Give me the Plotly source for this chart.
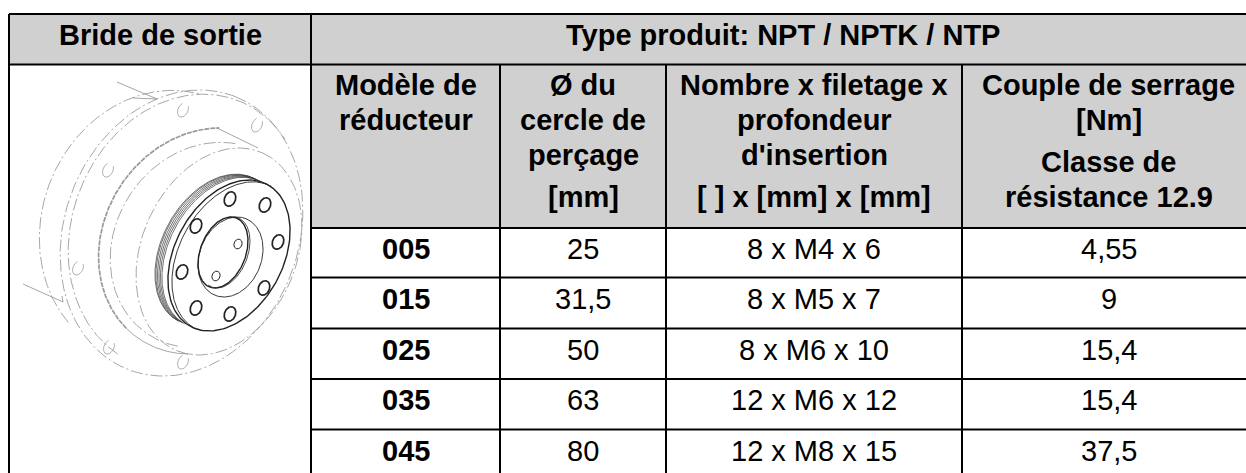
import numpy as np
import plotly.graph_objects as go

# ---- data ----
title_left = "Bride de sortie"
title_right = "Type produit: NPT / NPTK / NTP"
head_models = ["Modèle de", "réducteur"]
head_circle = ["Ø du", "cercle de", "perçage", "[mm]"]
head_thread = ["Nombre x filetage x", "profondeur", "d'insertion", "[ ] x [mm] x [mm]"]
head_torque = ["Couple de serrage", "[Nm]", "Classe de", "résistance 12.9"]
models = ["005", "015", "025", "035", "045"]
circles = ["25", "31,5", "50", "63", "80"]
threads = ["8 x M4 x 6", "8 x M5 x 7", "8 x M6 x 10", "12 x M6 x 12", "12 x M8 x 15"]
torques = ["4,55", "9", "15,4", "15,4", "37,5"]

# ---- layout ----
W, H = 1246, 473
X = [9, 311, 500, 666, 962, 1255]   # the table runs slightly past the window on the right
Y = [14, 64.5, 228, 277.5, 328.5, 379, 429.5, 473]
HEAD_Y = [84.5, 119.5, 155, 197]
HEAD_TORQUE_Y = [84.5, 120, 161.5, 196.5]
ROW_Y = [248.5, 299, 350, 400, 451]
FONT = "Liberation Sans, Arial, sans-serif"
FS = 29
GREY = "#D0D0D0"
shapes = []
def rect(x0, y0, x1, y1, fill):
    shapes.append(dict(type="rect", xref="x", yref="y", x0=x0, y0=y0, x1=x1, y1=y1,
                       fillcolor=fill, line=dict(width=0), layer="below"))
def line(x0, y0, x1, y1):
    shapes.append(dict(type="line", xref="x", yref="y", x0=x0, y0=y0, x1=x1, y1=y1,
                       line=dict(color="black", width=2), layer="above"))
rect(X[0], Y[0], W, Y[1], GREY)
rect(X[1], Y[1], W, Y[2], GREY)
line(X[0], Y[0], W, Y[0])
line(X[0], Y[1], W, Y[1])
for yy in Y[2:7]:
    line(X[1], yy, W, yy)
line(X[0], Y[0], X[0], H)
line(X[1], Y[0], X[1], H)
for xx in X[2:5]:
    line(xx, Y[1], xx, H)

ann = []
def txt(x, y, s, bold=True):
    ann.append(dict(x=x, y=y, xref="x", yref="y", text=f"<b>{s}</b>" if bold else s, showarrow=False,
                    xanchor="center", yanchor="middle",
                    font=dict(family=FONT, size=FS, color="black")))
txt((X[0]+X[1])/2, 35, title_left)
txt((X[1]+X[-1])/2, 35, title_right)
for s, y in zip(head_models, HEAD_Y): txt((X[1]+X[2])/2, y, s)
for s, y in zip(head_circle, HEAD_Y): txt((X[2]+X[3])/2, y, s)
for s, y in zip(head_thread, HEAD_Y): txt((X[3]+X[4])/2, y, s)
for s, y in zip(head_torque, HEAD_TORQUE_Y): txt((X[4]+X[5])/2, y, s)
for i, y in enumerate(ROW_Y):
    txt((X[1]+X[2])/2, y, models[i])
    txt((X[2]+X[3])/2, y, circles[i], False)
    txt((X[3]+X[4])/2, y, threads[i], False)
    txt((X[4]+X[5])/2, y, torques[i], False)

# ---- illustration: flange drawing built from ellipse arcs ----
def arc(cx, cy, a, b, rot, t0=0, t1=360, n=200):
    t = np.radians(np.linspace(t0, t1, n))
    r = np.radians(rot)
    x = a*np.cos(t); y = b*np.sin(t)
    return cx + x*np.cos(r) - y*np.sin(r), cy + x*np.sin(r) + y*np.cos(r)

fig = go.Figure()
def draw(x, y, color="#222", width=1.2, dash="solid"):
    fig.add_trace(go.Scatter(x=list(x), y=list(y), mode="lines", hoverinfo="skip", showlegend=False,
                             line=dict(color=color, width=width, dash=dash)))
DD = "12px,3px,2px,3px"
G = "#8f8f8f"
# rear outlines
draw(*arc(181.5, 233, 146.6, 117, -68.6), G, 0.8, DD)
draw(*arc(187, 232, 141, 115, -68.6, 190, 390), G, 0.8, DD)
draw(*arc(160, 225, 137, 118, -68.6, 205, 355), G, 0.8, DD)
draw(*arc(219, 251.5, 107.8, 77.3, -66.4), G, 0.8, DD)
draw(*arc(207, 245, 107, 92, -56.5, 160, 340), G, 0.8, DD)
draw(*arc(205, 241, 118, 101, -56.5, 190, 330), "#9a9a9a", 1.7, "5px,1px")
draw(*arc(205, 241, 118, 101, -56.5, 150, 190), G, 0.8)
draw([217, 258], [128, 148], G, 0.8)
draw([117, 157, 133], [82, 99, 98], G, 0.8)
draw([23, 63, 62], [284, 302, 296], G, 0.8)
# small rear holes
for hx, hy in [(183, 110), (257, 125), (108, 170), (78, 268), (109, 347), (183, 362)]:
    draw(*arc(hx, hy, 7.5, 5, -65, 40, 320), G, 0.7)
# front face, stacked steps behind the face
for k in (6, 7.5, 9, 10.5, 12, 13):
    draw(*arc(229-k, 255.5-0.45*k, 80.7, 54, -61.6, 180, 360), "#333", 0.7)
draw(*arc(229+4, 255.5+1.8, 80.7, 54, -61.6, 180, 360), "#222", 0.9)
draw(*arc(229, 255.5, 80.7, 54, -61.6), "#222", 1.4)
# centre bore
draw(*arc(230.5, 257, 41.3, 30.9, -68), "#222", 0.9)
draw(*arc(223, 252.5, 37, 22.7, -69), "#222", 1.4)
draw(*arc(225, 252.5, 37, 22.7, -69, -20, 190), "#222", 0.8)
# bolt holes
for hx, hy in [(230, 199), (265, 205), (196, 226), (182, 272), (196, 308), (230, 314), (264, 288), (278, 242)]:
    draw(*arc(hx, hy, 7.5, 5.5, -68), "#222", 1.7)
for hx, hy in [(238, 244), (216, 276)]:
    draw(*arc(hx, hy, 5, 4, -68), "#222", 1.0)

fig.update_layout(width=W, height=H, margin=dict(l=0, r=0, t=0, b=0),
                  paper_bgcolor="white", plot_bgcolor="white", shapes=shapes, annotations=ann,
                  xaxis=dict(range=[0, W], visible=False, fixedrange=True),
                  yaxis=dict(range=[H, 0], visible=False, fixedrange=True), showlegend=False)
fig.write_html("out.html", config={"displayModeBar": False},
               post_script="document.body.style.margin='0';document.documentElement.style.overflow='hidden';")
